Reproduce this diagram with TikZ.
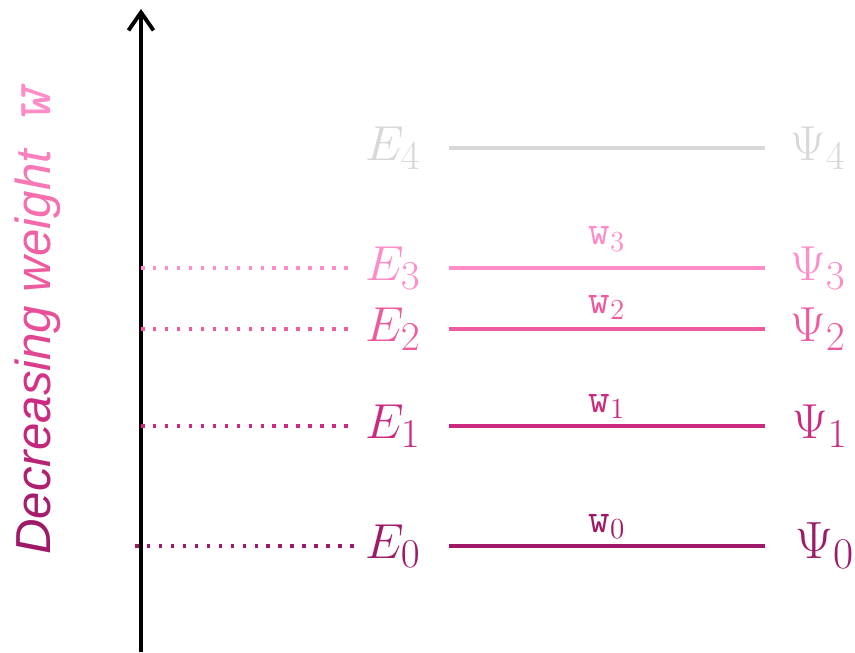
\documentclass[tikz,border=0pt]{standalone}
\usepackage{fontspec}
\setsansfont{Liberation Sans}
\usepackage{xcolor}
\usepackage{tikz}
\usetikzlibrary{arrows.meta,positioning,calc}

\definecolor{lvlzero}{HTML}{9E1A68}
\definecolor{lvlone}{HTML}{CC2A80}
\definecolor{lvltwo}{HTML}{EE5A9E}
\definecolor{lvlthree}{HTML}{FF8CC6}
\definecolor{lvlfour}{HTML}{D8D8D8}

\newcommand{\tint}[2]{\textcolor{#1}{#2}}

\begin{document}
\begin{tikzpicture}[
    axis/.style={line width=2.2pt, -{Straight Barb[length=0.36cm,width=0.5cm]}},
    level/.style={line width=2.2pt},
    guide/.style={line width=2pt, dash pattern=on 2pt off 4.8pt},
    energy/.style={font=\Huge, inner sep=0pt, transform shape},
    weight/.style={font=\huge, inner sep=2pt, transform shape, scale=1.15}
]
\useasboundingbox (0,0) rectangle (17.1,13.04);

% axis
\coordinate (axbot) at (2.82,0);
\coordinate (axtop) at (2.82,12.86);
\draw[axis] (axbot) -- (axtop);

\node[rotate=90, font=\sffamily\itshape\fontsize{28}{34}\selectfont] (wlabel) at (0.76,6.62)
  {\tint{lvlzero}{D}\tint{lvlzero!80!lvlone}{e}\tint{lvlzero!60!lvlone}{c}\tint{lvlzero!40!lvlone}{r}\tint{lvlzero!20!lvlone}{e}\tint{lvlone}{a}\tint{lvlone!80!lvltwo}{s}\tint{lvlone!60!lvltwo}{i}\tint{lvlone!40!lvltwo}{n}\tint{lvlone!20!lvltwo}{g} \tint{lvltwo}{w}\tint{lvltwo!85!lvlthree}{e}\tint{lvltwo!70!lvlthree}{i}\tint{lvltwo!55!lvlthree}{g}\tint{lvltwo!40!lvlthree}{h}\tint{lvltwo!25!lvlthree}{t}\ \ \tint{lvlthree}{\ttfamily\slshape\fontsize{38}{40}\selectfont w}};

% levels
\foreach \i/\y/\col/\s/\px in {0/2.12/lvlzero/1.2/15.9, 1/4.52/lvlone/1.125/15.84, 2/6.46/lvltwo/1.125/15.8, 3/7.68/lvlthree/1.125/15.8, 4/10.08/lvlfour/1.125/15.8} {
    \coordinate (l\i a) at (8.98,\y);
    \coordinate (l\i b) at (15.3,\y);
    \draw[level, \col] (l\i a) -- (l\i b);
    \node[energy, text=\col, anchor=east, scale=1.125] (e\i) at (8.42,\y) {$E_{\i}$};
    \node[energy, text=\col, anchor=west, scale=\s] (psi\i) at (\px,\y) {$\Psi_{\i}$};
}

% weights and guides
\foreach \i/\y/\col/\gap/\dx in {0/2.12/lvlzero/0.06/2.7, 1/4.52/lvlone/0.06/2.82, 2/6.46/lvltwo/0.1/2.82, 3/7.68/lvlthree/0.25/2.82} {
    \node[weight, text=\col, above=\gap of $(l\i a)!0.5!(l\i b)$] (w\i) {$\mathtt{w}_{\i}$};
    \coordinate (d\i a) at (\dx,\y);
    \coordinate (d\i b) at (7.12,\y);
    \draw[guide, \col] (d\i a) -- (d\i b);
}
\end{tikzpicture}
\end{document}
